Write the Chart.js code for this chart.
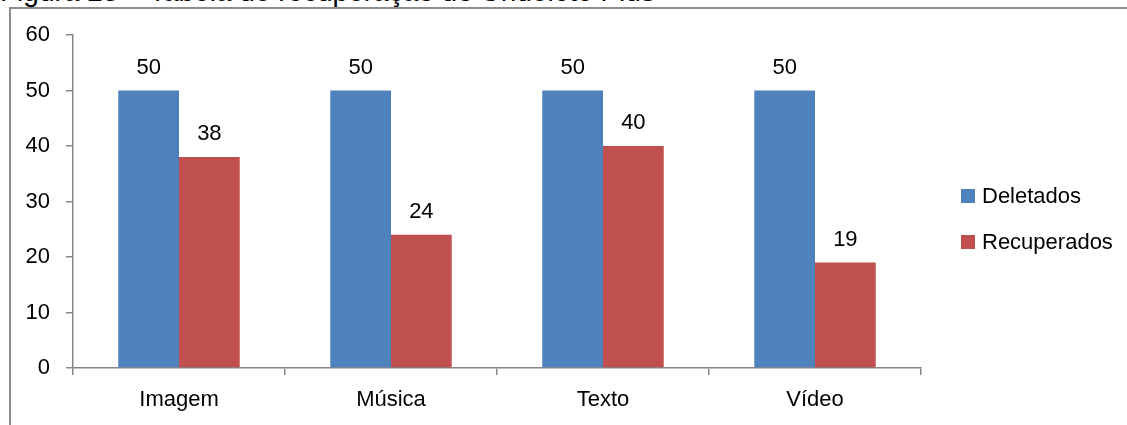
<!DOCTYPE html>
<html lang="pt">
<head>
<meta charset="utf-8">
<title>Recuperação do Undelete Plus</title>
<script src="https://cdn.jsdelivr.net/npm/chart.js@4/dist/chart.umd.min.js"></script>
<style>
  html, body { margin: 0; padding: 0; background: #fff; overflow: hidden; }
  body { width: 1127px; height: 425px; position: relative; font-family: 'Liberation Sans', Arial, sans-serif; }
  #caption {
    position: absolute; left: 0; top: -21.7px;
    font-size: 28px; line-height: 28px; color: #000; white-space: nowrap;
  }
  #frame {
    position: absolute; left: 9px; top: 7px; width: 1200px; height: 500px;
    border-left: 2px solid #8c8c8c; border-top: 2px solid #8c8c8c;
  }
  #chart { position: absolute; left: 0; top: 0; }
  #legend {
    position: absolute; left: 961px; top: 183px; margin: 0; padding: 0; list-style: none;
    font-size: 22px; color: #000;
  }
  #legend li { display: flex; align-items: center; height: 26px; margin-bottom: 19.6px; }
  #legend .swatch { width: 14px; height: 14px; margin-right: 7px; flex: none; }
</style>
</head>
<body>
<div id="caption">Figura 23 – Tabela de recuperação do Undelete Plus</div>
<div id="frame"></div>
<canvas id="chart" width="1127" height="425"></canvas>
<ul id="legend"></ul>
<script>
// Categories and series
const categories = ['Imagem', 'Música', 'Texto', 'Vídeo'];
const deletados = [50, 50, 50, 50];
const recuperados = [38, 24, 40, 19];
const seriesNames = ['Deletados', 'Recuperados'];
const seriesColors = ['#4F81BD', '#C0504D'];

// Value axis
const yMin = 0;
const yMax = 60;
const yStep = 10;

const axisGray = '#868686';
const fontFamily = "'Liberation Sans', Arial, sans-serif";

Chart.defaults.font.family = fontFamily;
Chart.defaults.font.size = 22;
Chart.defaults.color = '#000';

// Writes each bar's value above it
const valueLabels = {
  id: 'valueLabels',
  afterDatasetsDraw(chart) {
    const ctx = chart.ctx;
    ctx.save();
    ctx.font = '22px ' + fontFamily;
    ctx.fillStyle = '#000';
    ctx.textAlign = 'center';
    ctx.textBaseline = 'alphabetic';
    chart.data.datasets.forEach((ds, i) => {
      chart.getDatasetMeta(i).data.forEach((bar, j) => {
        ctx.fillText(String(ds.data[j]), bar.x, bar.y - 17);
      });
    });
    ctx.restore();
  }
};

const chart = new Chart(document.getElementById('chart'), {
  type: 'bar',
  data: {
    labels: categories,
    datasets: [
      { label: seriesNames[0], data: deletados, backgroundColor: seriesColors[0] },
      { label: seriesNames[1], data: recuperados, backgroundColor: seriesColors[1] }
    ]
  },
  options: {
    responsive: false,
    animation: false,
    devicePixelRatio: 1,
    layout: { padding: { left: 10, top: 35, right: 206, bottom: 0 } },
    datasets: { bar: { categoryPercentage: 0.573, barPercentage: 1.0, borderWidth: 0 } },
    plugins: { legend: { display: false }, tooltip: { enabled: false } },
    scales: {
      x: {
        grid: { display: true, drawOnChartArea: false, drawTicks: true, tickLength: 7, color: axisGray, lineWidth: 1.5, offset: true },
        border: { display: true, color: axisGray, width: 1.5 },
        ticks: { padding: 12, font: { size: 22 }, color: '#000', maxRotation: 0 },
        afterFit(scale) { scale.height = 57; }
      },
      y: {
        min: yMin,
        max: yMax,
        grid: { display: true, drawOnChartArea: false, drawTicks: true, tickLength: 7, color: axisGray, lineWidth: 1.5 },
        border: { display: true, color: axisGray, width: 1.5 },
        ticks: { stepSize: yStep, padding: 16, font: { size: 22 }, color: '#000' },
        afterFit(scale) { scale.width = 63; }
      }
    }
  },
  plugins: [valueLabels]
});

// Legend built from the chart's own datasets
const legendEl = document.getElementById('legend');
chart.data.datasets.forEach(ds => {
  const li = document.createElement('li');
  const sw = document.createElement('span');
  sw.className = 'swatch';
  sw.style.background = ds.backgroundColor;
  const tx = document.createElement('span');
  tx.textContent = ds.label;
  li.appendChild(sw);
  li.appendChild(tx);
  legendEl.appendChild(li);
});
</script>
</body>
</html>
